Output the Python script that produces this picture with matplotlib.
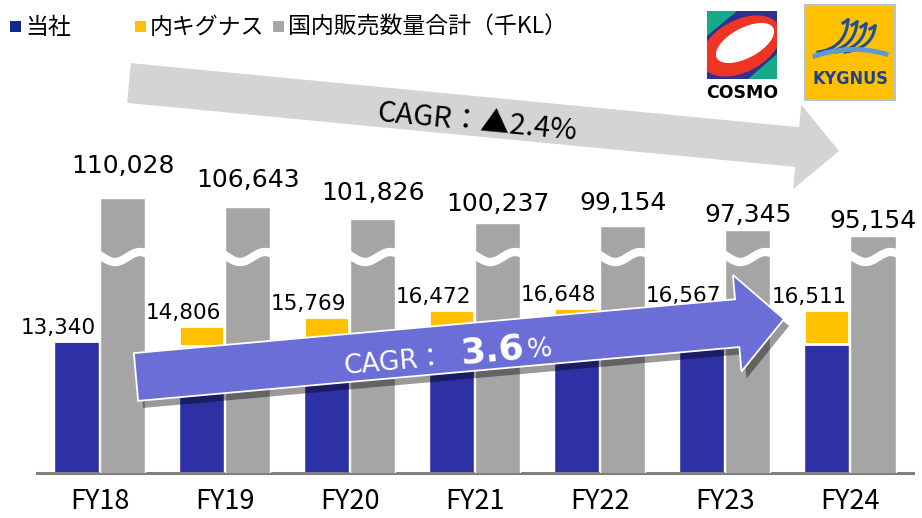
import numpy as np
import matplotlib
matplotlib.use("Agg")
import matplotlib.pyplot as plt
from matplotlib.patches import Polygon, Rectangle, Ellipse

# data (千KL)
years = ["FY18", "FY19", "FY20", "FY21", "FY22", "FY23", "FY24"]
cosmo = [13340, 12856, 13119, 13772, 13748, 13267, 13061]
kygnus = [0, 1950, 2650, 2700, 2900, 3300, 3450]
domestic = [110028, 106643, 101826, 100237, 99154, 97345, 95154]
legend_labels = ["当社", "内キグナス", "国内販売数量合計（千KL）"]
cagr_total = "CAGR：▲2.4%"
cagr_own = "3.6"

BLUE = "#2E31A6"
YELLOW = "#FFC000"
GRAY = "#A5A5A5"
JP = ["Noto Sans CJK JP", "DejaVu Sans"]

plt.rcParams["font.family"] = ["DejaVu Sans", "Noto Sans CJK JP"]

W, H = 922, 518
fig = plt.figure(figsize=(W / 100, H / 100), dpi=100)

# layout in pixels
base_px = 473
step_px = 125.08
first_px = 99.5
own_k = 0.009895      # px per 千KL, own sales
tot_k = 0.002555      # px per 千KL, domestic total
tot_floor = 2390

ax = fig.add_axes([0, (H - base_px) / H, 1, base_px / H])
ax.set_xlim(-first_px / step_px, (W - first_px) / step_px)
ax.set_ylim(0, base_px / own_k)
ax2 = ax.twinx()
ax2.set_ylim(tot_floor, tot_floor + base_px / tot_k)
ax.axis("off")
ax2.axis("off")

x = np.arange(len(years))
bw = 0.36
off = 0.184
totals = [c + k for c, k in zip(cosmo, kygnus)]

ax.bar(x - off, cosmo, bw, color=BLUE, edgecolor="white", linewidth=1)
ax.bar(x - off, kygnus, bw, bottom=cosmo, color=YELLOW, edgecolor="white", linewidth=2)
ax2.bar(x + off, domestic, bw, color=GRAY, edgecolor="white", linewidth=1)

# wavy break on the total bars
wave_v = tot_floor + (base_px - 257) / tot_k
wave_amp = 5 / tot_k
t = np.linspace(0, 1, 60)
for xi in x + off:
    xs = xi - bw / 2 - 0.02 + (bw + 0.04) * t
    ys = wave_v - wave_amp * np.sin(2 * np.pi * (t - 0.1))
    ax2.plot(xs, ys, color="white", lw=6, solid_capstyle="butt")

ax.plot([-0.5, 6.5], [0, 0], color="#7F7F7F", lw=2.2, clip_on=False, zorder=3)

for i, v in enumerate(totals):
    ax.annotate(f"{v:,}", (x[i] - off + bw / 2, v), xytext=(-3, 7),
                textcoords="offset pixels", ha="right", va="baseline", fontsize=15.5)

gray_gap = [25, 20, 19, 12, 16, 8, 8]
for i, v in enumerate(domestic):
    ax2.annotate(f"{v:,}", (x[i] + off, v), xytext=(0, gray_gap[i]),
                 textcoords="offset pixels", ha="center", va="baseline", fontsize=18)

for i, lab in enumerate(years):
    ax.annotate(lab, (x[i], 0), xytext=(0, -36), textcoords="offset pixels",
                ha="center", va="baseline", fontsize=19.5, family=JP)

# overlay in pixel coordinates for arrows, legend, logos
ov = fig.add_axes([0, 0, 1, 1], zorder=5)
ov.set_xlim(0, W)
ov.set_ylim(H, 0)
ov.axis("off")


def arrow_poly(tail, tip, shaft_w, head_w, head_len):
    tail = np.array(tail, float)
    tip = np.array(tip, float)
    u = (tip - tail) / np.linalg.norm(tip - tail)
    n = np.array([-u[1], u[0]])
    b = tip - u * head_len
    return [tail + n * shaft_w / 2, b + n * shaft_w / 2, b + n * head_w / 2, tip,
            b - n * head_w / 2, b - n * shaft_w / 2, tail - n * shaft_w / 2]


ov.add_patch(Polygon(arrow_poly((129, 83), (839, 151), 40, 85, 42), fc="#D4D4D4", ec="none"))
ov.text(476, 130, cagr_total, rotation=-5.4, rotation_mode="anchor", ha="center",
        va="baseline", fontsize=21, family=JP, color="black")

blue_pts = arrow_poly((136, 377), (784, 319), 48, 97, 47)
shadow = [p + np.array([5, 7]) for p in blue_pts]
ov.add_patch(Polygon(shadow, fc="black", ec="none", alpha=0.4))
ov.add_patch(Polygon(blue_pts, fc="#6A6ED6", ec="white", lw=1.3))
ov.text(395, 370, "CAGR：", rotation=5.1, rotation_mode="anchor", ha="center",
        va="baseline", fontsize=19, color="white")
ov.text(493, 361, cagr_own, rotation=5.1, rotation_mode="anchor", ha="center",
        va="baseline", fontsize=26, fontweight="bold", color="white")
ov.text(540, 357, "%", rotation=5.1, rotation_mode="anchor", ha="center",
        va="baseline", fontsize=19, color="white")

# legend
leg_colors = ["#0C2C8C", YELLOW, "#A6A6A6"]
leg_x = [10, 135, 273]
for c, lx, lab in zip(leg_colors, leg_x, legend_labels):
    ov.add_patch(Rectangle((lx, 21), 11, 11, fc=c, ec="none"))
    ov.text(lx + 15, 27, lab, ha="left", va="center", fontsize=16.5, family=JP)

# COSMO logo
sq = Rectangle((707, 11), 70, 68, fc="#2E3192", ec="none")
ov.add_patch(sq)
parts = [
    Polygon([(707, 11), (737, 11), (707, 36)], fc="#17A98B", ec="none"),
    Polygon([(777, 79), (748, 79), (777, 54)], fc="#17A98B", ec="none"),
    Ellipse((741, 46), 86, 52, angle=-28, fc="#EE3524", ec="none"),
    Ellipse((745, 43), 64, 30, angle=-28, fc="white", ec="none"),
]
for p in parts:
    ov.add_patch(p)
    p.set_clip_path(sq)
ov.text(742, 93, "COSMO", ha="center", va="center", fontsize=12.5, fontweight="bold")

# KYGNUS logo
ov.add_patch(Rectangle((805, 5), 90, 95, fc=YELLOW, ec="#B4C2DA", lw=1.5))
s = np.linspace(0, 1, 30)
for i in range(4):
    p0 = np.array([818 + 9 * i, 52])
    p1 = np.array([846 + 9 * i, 48])
    p2 = np.array([848 + 9 * i, 20 + 2 * i])
    pts = np.outer((1 - s) ** 2, p0) + np.outer(2 * (1 - s) * s, p1) + np.outer(s ** 2, p2)
    ov.plot(pts[:, 0], pts[:, 1], color="#1F4E9A", lw=2.2)
    ov.plot([p2[0], p2[0] - 5], [p2[1], p2[1] + 3], color="#1F4E9A", lw=2.2)
q0, q1, q2 = np.array([815, 56]), np.array([850, 44]), np.array([886, 54])
pts = np.outer((1 - s) ** 2, q0) + np.outer(2 * (1 - s) * s, q1) + np.outer(s ** 2, q2)
ov.plot(pts[:, 0], pts[:, 1], color="#5B9BD5", lw=3.5)
ov.text(850, 79, "KYGNUS", ha="center", va="center", fontsize=13, fontweight="bold",
        color="#1F3F8F", fontstretch="condensed")

fig.savefig("out.png", dpi=100)
